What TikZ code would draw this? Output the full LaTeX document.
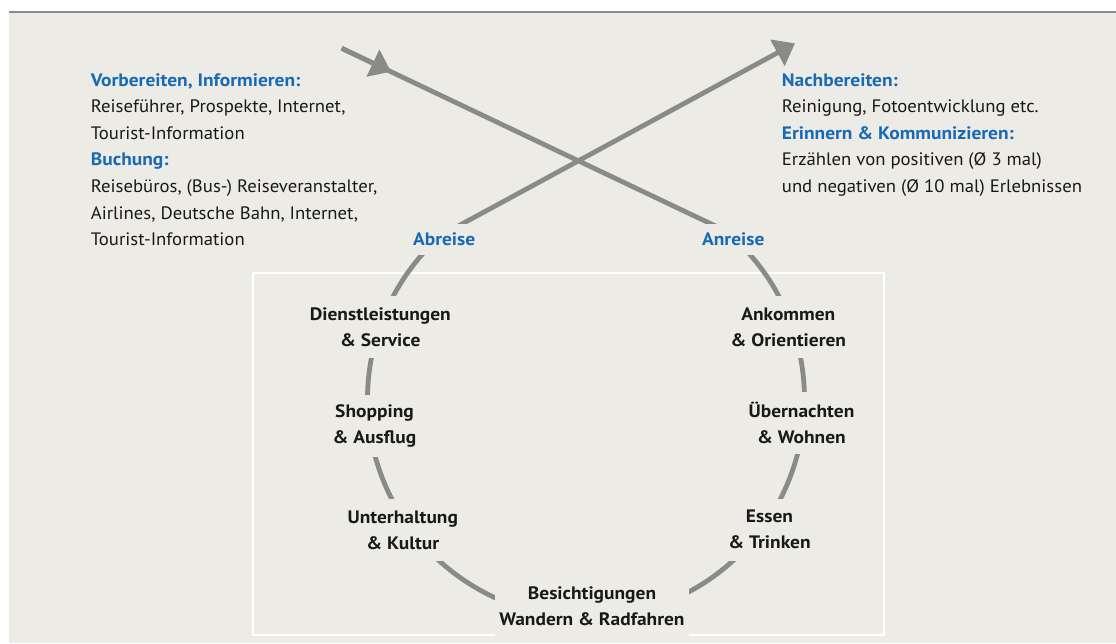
\documentclass[tikz,border=0pt]{standalone}
\usepackage{fontspec}
\setmainfont{PT Sans}[FakeStretch=1.04, BoldFeatures={FakeStretch=1.08}]
\usepackage{tikz}
\usetikzlibrary{arrows.meta, calc}

\definecolor{paper}{RGB}{236,235,229}
\definecolor{loopgray}{RGB}{138,138,137}
\definecolor{headblue}{RGB}{24,106,180}
\definecolor{inktext}{RGB}{25,25,25}

\begin{document}
\begin{tikzpicture}[
    x=1pt, y=1pt,
    every node/.style={font=\fontsize{18}{26.6}\selectfont, text=inktext},
    info/.style={anchor=north west, align=left, inner sep=0pt},
    station/.style={fill=paper, align=center, inner xsep=4pt, inner ysep=0pt, minimum height=62pt, font=\fontsize{18}{26}\selectfont\bfseries},
    gate/.style={fill=paper, anchor=base, inner xsep=4pt, minimum height=31pt, text=headblue, font=\fontsize{18}{26.6}\selectfont\bfseries},
    loopline/.style={line width=4.8pt, color=loopgray},
    flowtip/.style={-{Triangle[length=20pt, width=29pt]}}
]
\useasboundingbox (0,0) rectangle (1116,-643);

% Hintergrund
\fill[white] (0,0) rectangle (1116,-643);
\fill[paper] (9,-13.3) rectangle (1116,-643);
\draw[line width=2.4pt, color=loopgray] (9,-12.1) -- (1116,-12.1);
\draw[line width=2pt, white] (253.3,-273.3) rectangle (884.3,-635);

% Kreislauf
\coordinate (ctr) at (586,-399);
\coordinate (inStart) at (341.7,-48.3);
\coordinate (inTip) at (391,-71.7);
\coordinate (outTip) at (795,-43.3);

\draw[loopline, flowtip] (inStart) -- ($(ctr)+(50.4:218.5)$)
    arc[start angle=50.4, end angle=-228.6, radius=218.5] -- (outTip);
\draw[loopline, flowtip] (inStart) -- (inTip);

% Stationen
\node[gate] (abreise) at (444.2,-245.7) {Abreise};
\node[gate] (anreise) at (733.3,-245.7) {Anreise};

\node[station] (dienst) at (380.3,-327.1) {Dienstleistungen\\\& Service};
\node[station] (shopping) at (374.5,-426) {Shopping\\\& Ausflug};
\node[station] (kultur) at (402.8,-530) {Unterhaltung\\\& Kultur};
\node[station] (besicht) at (592,-605.9) {Besichtigungen\\Wandern \& Radfahren};
\node[station] (essen) at (769.5,-529.7) {Essen\\\& Trinken};
\node[station] (wohnen) at (801.5,-422.6) {Übernachten\\\& Wohnen};
\node[station] (ankommen) at (788.3,-327.1) {Ankommen\\\& Orientieren};

% Texte
\node[info] (vorher) at (90.7,-73) {\textcolor{headblue}{\bfseries Vorbereiten, Informieren:}\\
    Reiseführer, Prospekte, Internet,\\
    Tourist-Information\\
    \textcolor{headblue}{\bfseries Buchung:}\\
    Reisebüros, (Bus-) Reiseveranstalter,\\
    Airlines, Deutsche Bahn, Internet,\\
    Tourist-Information};
\node[info] (nachher) at (781.7,-73) {\textcolor{headblue}{\bfseries Nachbereiten:}\\
    Reinigung, Fotoentwicklung etc.\\
    \textcolor{headblue}{\bfseries Erinnern \& Kommunizieren:}\\
    Erzählen von positiven (Ø 3 mal)\\
    und negativen (Ø 10 mal) Erlebnissen};

\end{tikzpicture}
\end{document}
